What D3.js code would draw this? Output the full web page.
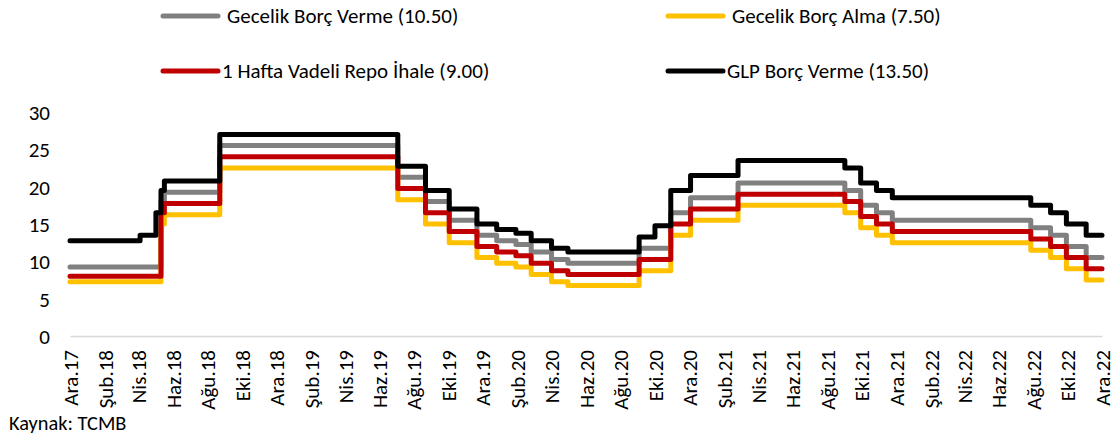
<!DOCTYPE html>
<html>
<head>
<meta charset="utf-8">
<script src="https://cdn.jsdelivr.net/npm/d3@7/dist/d3.min.js"></script>
<style>
  html, body { margin: 0; padding: 0; background: #fff; }
  svg { display: block; }
  text { font-family: Carlito, Lato, "Open Sans", sans-serif; fill: #000; }
</style>
</head>
<body>
<svg id="chart" width="1116" height="438"></svg>
<script>
// ---- Data ----
const changeDates = ["2017-12-22","2018-04-25","2018-05-23","2018-06-01","2018-06-07","2018-09-13",
  "2019-07-25","2019-09-12","2019-10-24","2019-12-12","2020-01-16","2020-02-19","2020-03-17",
  "2020-04-22","2020-05-21","2020-09-24","2020-10-22","2020-11-19","2020-12-24","2021-03-18",
  "2021-09-23","2021-10-21","2021-11-18","2021-12-16","2022-08-18","2022-09-22","2022-10-20",
  "2022-11-24","2022-12-22"];

const gecelikBorcVerme = [9.25,9.25,9.25,18,19.25,25.5,21.25,18,15.5,13.5,12.75,12.25,11.25,10.25,9.75,11.75,11.75,16.5,18.5,20.5,19.5,17.5,16.5,15.5,14.5,13.5,12,10.5,10.5];
const gecelikBorcAlma  = [7.25,7.25,7.25,15,16.25,22.5,18.25,15,12.5,10.5,9.75,9.25,8.25,7.25,6.75,8.75,8.75,13.5,15.5,17.5,16.5,14.5,13.5,12.5,11.5,10.5,9,7.5,7.5];
const haftaRepo        = [8,8,8,16.5,17.75,24,19.75,16.5,14,12,11.25,10.75,9.75,8.75,8.25,10.25,10.25,15,17,19,18,16,15,14,13,12,10.5,9,9];
const glpBorcVerme     = [12.75,13.5,16.5,19.5,20.75,27,22.75,19.5,17,15,14.25,13.75,12.75,11.75,11.25,13.25,14.75,19.5,21.5,23.5,22.5,20.5,19.5,18.5,17.5,16.5,15,13.5,13.5];

const seriesNames = ["Gecelik Borç Verme (10.50)","Gecelik Borç Alma (7.50)","1 Hafta Vadeli Repo İhale (9.00)","GLP Borç Verme (13.50)"];
const seriesColors = ["#808080","#FFC000","#C00000","#000000"];

const xTickLabels = ["Ara.17","Şub.18","Nis.18","Haz.18","Ağu.18","Eki.18","Ara.18","Şub.19","Nis.19","Haz.19",
  "Ağu.19","Eki.19","Ara.19","Şub.20","Nis.20","Haz.20","Ağu.20","Eki.20","Ara.20","Şub.21","Nis.21",
  "Haz.21","Ağu.21","Eki.21","Ara.21","Şub.22","Nis.22","Haz.22","Ağu.22","Eki.22","Ara.22"];
const yTicks = [0,5,10,15,20,25,30];
const sourceText = "Kaynak: TCMB";

// ---- Setup ----
const svg = d3.select("#chart");
const parse = d3.timeParse("%Y-%m-%d");
const dates = changeDates.map(parse);

// fit font size so that text widths resemble the original
const probe = svg.append("text").attr("font-size", 20).text(seriesNames[0]);
const probeLen = probe.node().getComputedTextLength();
probe.remove();
const fs = Math.max(15, Math.min(21, 20 * 235 / probeLen));

const x = d3.scaleTime().domain([dates[0], dates[dates.length - 1]]).range([70, 1102]);
const y = d3.scaleLinear().domain([0, 30]).range([336, 112]);

// y tick labels
const yAxis = d3.axisLeft(y).tickValues(yTicks).tickSize(0).tickPadding(0).tickFormat(d3.format("d"));
const gy = svg.append("g").attr("transform", "translate(50,0)").call(yAxis);
gy.select(".domain").remove();
gy.selectAll("text").attr("font-size", fs).attr("font-family", null).attr("fill", "#000").attr("x", 0).attr("dy", "0.35em");

// x axis
const tickDates = xTickLabels.map((_, i) => d3.timeMonth.offset(dates[0], 2 * i));
const xAxis = d3.axisBottom(x).tickValues(tickDates).tickSize(0).tickFormat((d, i) => xTickLabels[i]);
const gx = svg.append("g").attr("transform", `translate(0,${y(0)})`).call(xAxis);
gx.select(".domain").attr("stroke", "#d9d9d9").attr("stroke-width", 1.5);
gx.selectAll("text")
  .attr("font-size", fs).attr("font-family", null).attr("fill", "#000")
  .attr("text-anchor", "end")
  .attr("transform", "translate(0,14) rotate(-90)")
  .attr("x", 0).attr("y", 0).attr("dy", "0.35em");

// lines
const allSeries = [gecelikBorcVerme, gecelikBorcAlma, haftaRepo, glpBorcVerme];
const line = d3.line().x(d => x(d.date)).y(d => y(d.v)).curve(d3.curveStepAfter);
allSeries.forEach((vals, si) => {
  const pts = vals.map((v, i) => ({ date: dates[i], v }));
  svg.append("path").datum(pts)
    .attr("fill", "none").attr("stroke", seriesColors[si]).attr("stroke-width", 5)
    .attr("stroke-linejoin", "round").attr("stroke-linecap", "round")
    .attr("d", line);
});

// legend
const legendPos = [
  { sx: 163, tx: 227, y: 16 },
  { sx: 668, tx: 732, y: 16 },
  { sx: 163, tx: 222, y: 71 },
  { sx: 668, tx: 727, y: 71 }
];
seriesNames.forEach((name, i) => {
  const p = legendPos[i];
  svg.append("line").attr("x1", p.sx).attr("x2", p.sx + 55).attr("y1", p.y).attr("y2", p.y)
    .attr("stroke", seriesColors[i]).attr("stroke-width", 5).attr("stroke-linecap", "round");
  svg.append("text").attr("x", p.tx).attr("y", p.y).attr("dy", "0.35em")
    .attr("font-size", fs).text(name);
});

// source
svg.append("text").attr("x", 9).attr("y", 430).attr("font-size", fs * 0.97).text(sourceText);
</script>
</body>
</html>
